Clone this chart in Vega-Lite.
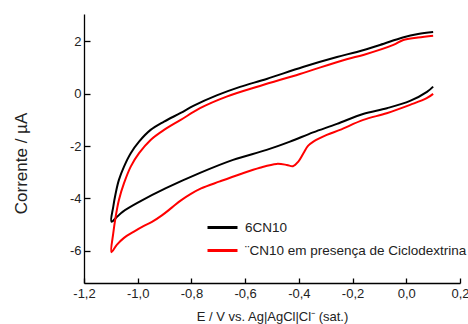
{
  "$schema": "https://vega.github.io/schema/vega-lite/v6.json",
  "width": 376,
  "height": 269,
  "autosize": "none",
  "padding": {"left": 84, "top": 14, "right": 8, "bottom": 41},
  "config": {
    "view": {"stroke": null},
    "font": "Liberation Sans",
    "axis": {
      "grid": false,
      "domainColor": "#000000",
      "domainWidth": 1.3,
      "tickColor": "#000000",
      "tickWidth": 1.3,
      "labelColor": "#222222",
      "titleColor": "#222222",
      "labelFont": "Liberation Sans",
      "titleFont": "Liberation Sans",
      "titleFontWeight": "normal"
    }
  },
  "data": {
    "values": [
      {"s": "6CN10", "o": 1, "E": 0.100, "I": 0.267},
      {"s": "6CN10", "o": 2, "E": 0.077, "I": 0.065},
      {"s": "6CN10", "o": 3, "E": 0.014, "I": -0.279},
      {"s": "6CN10", "o": 4, "E": -0.072, "I": -0.557},
      {"s": "6CN10", "o": 5, "E": -0.161, "I": -0.775},
      {"s": "6CN10", "o": 6, "E": -0.258, "I": -1.156},
      {"s": "6CN10", "o": 7, "E": -0.347, "I": -1.481},
      {"s": "6CN10", "o": 8, "E": -0.433, "I": -1.832},
      {"s": "6CN10", "o": 9, "E": -0.520, "I": -2.149},
      {"s": "6CN10", "o": 10, "E": -0.645, "I": -2.531},
      {"s": "6CN10", "o": 11, "E": -0.768, "I": -3.027},
      {"s": "6CN10", "o": 12, "E": -0.895, "I": -3.611},
      {"s": "6CN10", "o": 13, "E": -0.991, "I": -4.115},
      {"s": "6CN10", "o": 14, "E": -1.055, "I": -4.504},
      {"s": "6CN10", "o": 15, "E": -1.076, "I": -4.695},
      {"s": "6CN10", "o": 16, "E": -1.098, "I": -4.89},
      {"s": "6CN10", "o": 17, "E": -1.091, "I": -4.313},
      {"s": "6CN10", "o": 18, "E": -1.082, "I": -3.802},
      {"s": "6CN10", "o": 19, "E": -1.070, "I": -3.294},
      {"s": "6CN10", "o": 20, "E": -1.051, "I": -2.786},
      {"s": "6CN10", "o": 21, "E": -1.026, "I": -2.275},
      {"s": "6CN10", "o": 22, "E": -0.995, "I": -1.832},
      {"s": "6CN10", "o": 23, "E": -0.952, "I": -1.385},
      {"s": "6CN10", "o": 24, "E": -0.902, "I": -1.069},
      {"s": "6CN10", "o": 25, "E": -0.840, "I": -0.737},
      {"s": "6CN10", "o": 26, "E": -0.793, "I": -0.469},
      {"s": "6CN10", "o": 27, "E": -0.706, "I": -0.069},
      {"s": "6CN10", "o": 28, "E": -0.619, "I": 0.256},
      {"s": "6CN10", "o": 29, "E": -0.520, "I": 0.561},
      {"s": "6CN10", "o": 30, "E": -0.385, "I": 1.019},
      {"s": "6CN10", "o": 31, "E": -0.258, "I": 1.401},
      {"s": "6CN10", "o": 32, "E": -0.184, "I": 1.592},
      {"s": "6CN10", "o": 33, "E": -0.098, "I": 1.859},
      {"s": "6CN10", "o": 34, "E": -0.013, "I": 2.145},
      {"s": "6CN10", "o": 35, "E": 0.044, "I": 2.279},
      {"s": "6CN10", "o": 36, "E": 0.100, "I": 2.355},

      {"s": "¨CN10 em presença de Ciclodextrina", "o": 1, "E": 0.100, "I": -0.011},
      {"s": "¨CN10 em presença de Ciclodextrina", "o": 2, "E": 0.076, "I": -0.176},
      {"s": "¨CN10 em presença de Ciclodextrina", "o": 3, "E": 0.014, "I": -0.431},
      {"s": "¨CN10 em presença de Ciclodextrina", "o": 4, "E": -0.073, "I": -0.748},
      {"s": "¨CN10 em presença de Ciclodextrina", "o": 5, "E": -0.160, "I": -1.004},
      {"s": "¨CN10 em presença de Ciclodextrina", "o": 6, "E": -0.247, "I": -1.385},
      {"s": "¨CN10 em presença de Ciclodextrina", "o": 7, "E": -0.296, "I": -1.576},
      {"s": "¨CN10 em presença de Ciclodextrina", "o": 8, "E": -0.346, "I": -1.832},
      {"s": "¨CN10 em presença de Ciclodextrina", "o": 9, "E": -0.366, "I": -1.996},
      {"s": "¨CN10 em presença de Ciclodextrina", "o": 10, "E": -0.383, "I": -2.275},
      {"s": "¨CN10 em presença de Ciclodextrina", "o": 11, "E": -0.402, "I": -2.595},
      {"s": "¨CN10 em presença de Ciclodextrina", "o": 12, "E": -0.422, "I": -2.771},
      {"s": "¨CN10 em presença de Ciclodextrina", "o": 13, "E": -0.445, "I": -2.721},
      {"s": "¨CN10 em presença de Ciclodextrina", "o": 14, "E": -0.483, "I": -2.683},
      {"s": "¨CN10 em presença de Ciclodextrina", "o": 15, "E": -0.545, "I": -2.828},
      {"s": "¨CN10 em presença de Ciclodextrina", "o": 16, "E": -0.619, "I": -3.076},
      {"s": "¨CN10 em presença de Ciclodextrina", "o": 17, "E": -0.694, "I": -3.351},
      {"s": "¨CN10 em presença de Ciclodextrina", "o": 18, "E": -0.764, "I": -3.618},
      {"s": "¨CN10 em presença de Ciclodextrina", "o": 19, "E": -0.802, "I": -3.828},
      {"s": "¨CN10 em presença de Ciclodextrina", "o": 20, "E": -0.839, "I": -4.076},
      {"s": "¨CN10 em presença de Ciclodextrina", "o": 21, "E": -0.872, "I": -4.344},
      {"s": "¨CN10 em presença de Ciclodextrina", "o": 22, "E": -0.910, "I": -4.649},
      {"s": "¨CN10 em presença de Ciclodextrina", "o": 23, "E": -0.947, "I": -4.897},
      {"s": "¨CN10 em presença de Ciclodextrina", "o": 24, "E": -0.977, "I": -5.050},
      {"s": "¨CN10 em presença de Ciclodextrina", "o": 25, "E": -1.014, "I": -5.267},
      {"s": "¨CN10 em presença de Ciclodextrina", "o": 26, "E": -1.051, "I": -5.508},
      {"s": "¨CN10 em presença de Ciclodextrina", "o": 27, "E": -1.078, "I": -5.775},
      {"s": "¨CN10 em presença de Ciclodextrina", "o": 28, "E": -1.098, "I": -6.053},
      {"s": "¨CN10 em presença de Ciclodextrina", "o": 29, "E": -1.091, "I": -5.328},
      {"s": "¨CN10 em presença de Ciclodextrina", "o": 30, "E": -1.082, "I": -4.695},
      {"s": "¨CN10 em presença de Ciclodextrina", "o": 31, "E": -1.070, "I": -4.057},
      {"s": "¨CN10 em presença de Ciclodextrina", "o": 32, "E": -1.051, "I": -3.420},
      {"s": "¨CN10 em presença de Ciclodextrina", "o": 33, "E": -1.026, "I": -2.786},
      {"s": "¨CN10 em presença de Ciclodextrina", "o": 34, "E": -0.995, "I": -2.275},
      {"s": "¨CN10 em presença de Ciclodextrina", "o": 35, "E": -0.952, "I": -1.767},
      {"s": "¨CN10 em presença de Ciclodextrina", "o": 36, "E": -0.902, "I": -1.385},
      {"s": "¨CN10 em presença de Ciclodextrina", "o": 37, "E": -0.840, "I": -1.004},
      {"s": "¨CN10 em presença de Ciclodextrina", "o": 38, "E": -0.768, "I": -0.557},
      {"s": "¨CN10 em presença de Ciclodextrina", "o": 39, "E": -0.669, "I": -0.115},
      {"s": "¨CN10 em presença de Ciclodextrina", "o": 40, "E": -0.545, "I": 0.294},
      {"s": "¨CN10 em presença de Ciclodextrina", "o": 41, "E": -0.396, "I": 0.752},
      {"s": "¨CN10 em presença de Ciclodextrina", "o": 42, "E": -0.222, "I": 1.313},
      {"s": "¨CN10 em presença de Ciclodextrina", "o": 43, "E": -0.160, "I": 1.477},
      {"s": "¨CN10 em presença de Ciclodextrina", "o": 44, "E": -0.048, "I": 1.859},
      {"s": "¨CN10 em presença de Ciclodextrina", "o": 45, "E": -0.011, "I": 2.050},
      {"s": "¨CN10 em presença de Ciclodextrina", "o": 46, "E": 0.044, "I": 2.145},
      {"s": "¨CN10 em presença de Ciclodextrina", "o": 47, "E": 0.100, "I": 2.214}
    ]
  },
  "mark": {"type": "line", "strokeWidth": 2, "interpolate": "catmull-rom"},
  "encoding": {
    "x": {
      "field": "E",
      "type": "quantitative",
      "scale": {"domain": [-1.2, 0.2], "nice": false, "zero": false},
      "axis": {
        "title": "E / V vs. Ag|AgCl|Cl⁻ (sat.)",
        "titleFontSize": 13,
        "titlePadding": 10,
        "values": [-1.2, -1.0, -0.8, -0.6, -0.4, -0.2, 0.0, 0.2],
        "labelExpr": "replace(replace(format(datum.value, '.1f'), '.', ','), '−', '-')",
        "labelFontSize": 13,
        "labelFlush": false,
        "labelBound": false,
        "labelOverlap": false,
        "tickSize": -5,
        "labelPadding": 9
      }
    },
    "y": {
      "field": "I",
      "type": "quantitative",
      "scale": {"domain": [-7.23, 3.04], "nice": false, "zero": false},
      "axis": {
        "title": "Corrente / µA",
        "titleFontSize": 17,
        "titleX": -63,
        "titleY": 149,
        "titleAlign": "center",
        "titleBaseline": "middle",
        "values": [-6, -4, -2, 0, 2],
        "labelExpr": "replace(format(datum.value, 'd'), '−', '-')",
        "labelFontSize": 13,
        "labelFlush": false,
        "labelBound": false,
        "labelOverlap": false,
        "tickSize": -6,
        "labelPadding": 9
      }
    },
    "color": {
      "field": "s",
      "type": "nominal",
      "scale": {
        "domain": ["6CN10", "¨CN10 em presença de Ciclodextrina"],
        "range": ["#000000", "#ff0000"]
      },
      "legend": {
        "title": null,
        "orient": "none",
        "legendX": 122,
        "legendY": 197,
        "symbolType": "stroke",
        "symbolSize": 900,
        "symbolStrokeWidth": 3,
        "labelFontSize": 13.5,
        "labelColor": "#222222",
        "labelFont": "Liberation Sans",
        "labelOffset": 6,
        "rowPadding": -6,
        "labelLimit": 400
      }
    },
    "order": {"field": "o", "type": "quantitative"}
  }
}
